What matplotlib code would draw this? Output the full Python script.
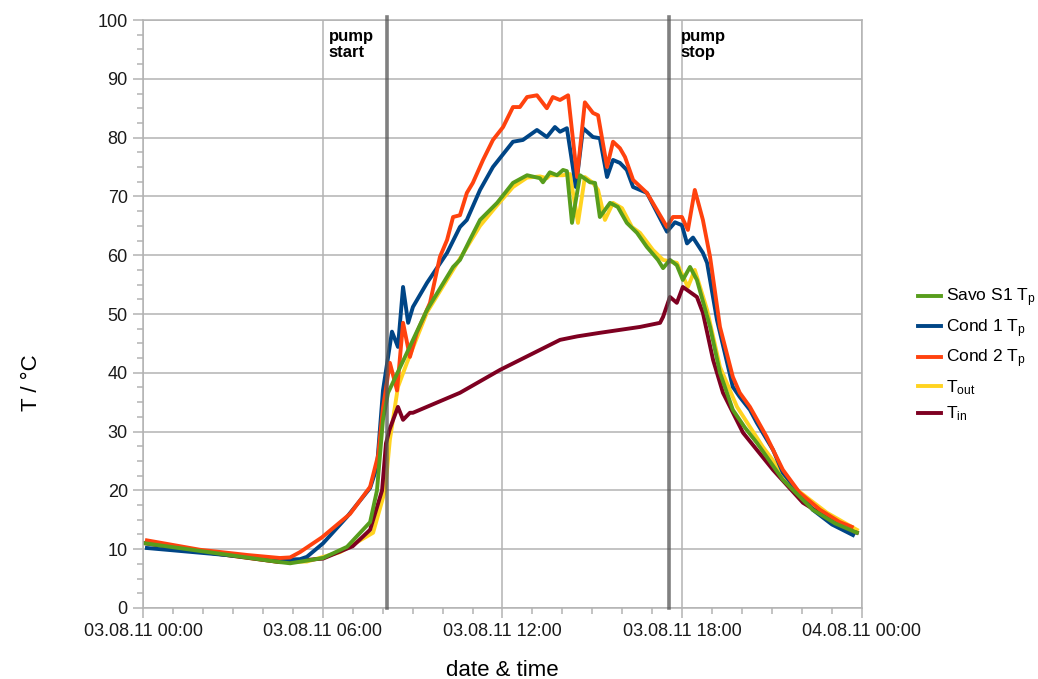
import matplotlib
matplotlib.use('Agg')
import matplotlib.pyplot as plt
from matplotlib.ticker import MultipleLocator

plt.rcParams['font.family'] = ['Liberation Sans', 'DejaVu Sans']
plt.rcParams['mathtext.default'] = 'regular'

# hours since 03.08.11 00:00
t_savo = [0.07, 1.90, 4.57, 4.91, 6.01, 6.81, 7.58, 7.81, 8.01, 8.18, 8.81, 9.48, 10.35, 10.58, 10.91,
          11.25, 11.82, 12.35, 12.82, 13.25, 13.35, 13.58, 13.82, 14.02, 14.15, 14.32, 14.59, 14.92,
          15.09, 15.25, 15.59, 15.85, 16.15, 16.49, 16.82, 17.19, 17.36, 17.59, 17.82, 18.02, 18.26,
          18.49, 18.93, 19.26, 19.69, 20.09, 20.49, 21.36, 22.36, 23.10, 23.83]
savo = [11.0, 9.7, 7.8, 7.6, 8.5, 10.4, 14.6, 20.0, 32.0, 36.6, 43.4, 50.7, 58.0, 59.2, 62.6,
        66.0, 68.9, 72.3, 73.6, 73.1, 72.4, 74.1, 73.6, 74.5, 74.3, 65.5, 73.6, 72.4,
        72.3, 66.5, 68.9, 68.2, 65.5, 63.8, 61.4, 59.2, 57.8, 59.2, 58.3, 55.8, 58.0,
        55.8, 47.8, 40.0, 33.7, 30.7, 28.1, 21.8, 16.7, 14.4, 12.8]

t_cond1 = [0.13, 1.90, 4.57, 5.24, 5.47, 6.01, 6.81, 7.58, 7.81, 8.01, 8.31, 8.51, 8.68, 8.85, 9.01,
           9.48, 10.15, 10.58, 10.81, 11.25, 11.68, 12.35, 12.68, 13.15, 13.48, 13.75, 13.92, 14.15,
           14.45, 14.69, 15.02, 15.25, 15.49, 15.69, 15.92, 16.15, 16.36, 16.82, 17.49, 17.76, 17.99,
           18.16, 18.36, 18.69, 18.83, 19.16, 19.69, 19.92, 20.26, 20.49, 21.03, 21.36, 22.36, 23.00,
           23.70]
cond1 = [10.2, 9.4, 8.2, 8.3, 8.7, 11.0, 15.5, 20.4, 24.0, 37.0, 47.0, 44.4, 54.6, 48.5, 51.2,
         55.3, 60.4, 64.8, 66.0, 71.1, 75.0, 79.3, 79.6, 81.3, 80.1, 81.8, 81.0, 81.6,
         71.6, 81.6, 80.1, 79.9, 73.3, 76.2, 75.7, 74.5, 71.6, 70.6, 64.0, 65.6, 65.1,
         62.0, 63.0, 60.4, 58.7, 49.0, 37.6, 35.9, 33.7, 31.5, 26.9, 23.0, 16.7, 14.2,
         12.4]

t_cond2 = [0.13, 1.90, 3.50, 4.57, 4.91, 5.24, 5.97, 6.91, 7.58, 7.85, 8.01, 8.24, 8.48, 8.68, 8.91,
           9.14, 9.58, 9.91, 10.15, 10.35, 10.58, 10.81, 11.01, 11.35, 11.68, 12.02, 12.35, 12.58,
           12.82, 13.15, 13.48, 13.68, 13.92, 14.19, 14.49, 14.75, 15.02, 15.19, 15.49, 15.69, 15.92,
           16.09, 16.36, 16.82, 17.49, 17.69, 17.99, 18.19, 18.42, 18.69, 18.93, 19.26, 19.69, 19.92,
           20.26, 20.82, 21.36, 21.92, 22.60, 23.26, 23.66]
cond2 = [11.5, 9.9, 9.0, 8.5, 8.6, 9.5, 12.0, 16.0, 20.6, 26.0, 34.0, 41.7, 37.0, 48.5, 42.7,
         46.8, 51.9, 59.7, 62.6, 66.5, 66.8, 70.6, 72.3, 76.2, 79.6, 81.8, 85.2, 85.2,
         86.9, 87.2, 85.0, 86.9, 86.4, 87.2, 73.3, 86.0, 84.2, 83.8, 75.0, 79.3, 78.2,
         76.7, 72.8, 70.6, 64.8, 66.5, 66.5, 64.3, 71.1, 66.0, 59.7, 47.8, 39.3, 36.6,
         34.2, 29.1, 23.5, 19.6, 16.7, 14.6, 13.8]

t_out = [0.13, 1.90, 4.57, 5.47, 6.58, 7.68, 8.08, 8.24, 8.51, 8.81, 9.48, 10.48, 11.25, 11.82,
         12.35, 12.82, 13.25, 13.48, 13.58, 14.02, 14.25, 14.52, 14.75, 15.02, 15.19, 15.42, 15.69,
         15.99, 16.32, 16.59, 17.02, 17.36, 17.82, 18.19, 18.42, 18.83, 19.26, 19.83, 20.69, 21.70,
         22.83, 23.83]
tout = [11.0, 9.6, 7.8, 7.9, 9.5, 12.8, 20.0, 28.6, 37.6, 41.7, 50.3, 58.6, 65.0, 68.5,
        71.6, 73.2, 73.4, 73.1, 73.6, 73.6, 73.8, 65.5, 73.3, 72.3, 71.1, 66.0, 68.9,
        68.0, 64.8, 63.8, 60.9, 59.2, 58.7, 54.6, 57.5, 50.7, 41.0, 34.2, 27.4, 20.6,
        16.2, 13.3]

t_in = [0.07, 1.90, 4.57, 6.01, 7.00, 7.58, 7.98, 8.11, 8.24, 8.51, 8.68, 8.91, 9.01, 10.58, 11.92,
        13.92, 14.50, 15.25, 16.59, 17.26, 17.36, 17.59, 17.82, 18.02, 18.49, 18.69, 19.03, 19.36,
        20.03, 21.03, 22.03, 23.50, 23.83]
tin = [11.0, 9.6, 7.8, 8.4, 10.5, 13.3, 20.0, 28.0, 30.5, 34.2, 32.0, 33.2, 33.2, 36.6, 40.5,
       45.6, 46.2, 46.8, 47.8, 48.5, 49.5, 52.9, 51.9, 54.6, 52.9, 50.2, 42.2, 36.6,
       29.8, 23.5, 17.9, 13.3, 12.8]

pump_start = 8.14
pump_stop = 17.56
xtick_labels = ['03.08.11 00:00', '03.08.11 06:00', '03.08.11 12:00', '03.08.11 18:00', '04.08.11 00:00']

fig = plt.figure(figsize=(10.38, 6.79), dpi=100)
ax = fig.add_axes([0.1378, 0.1046, 0.6926, 0.8659])

lw = 2.8
l_out, = ax.plot(t_out, tout, color='#ffd320', lw=lw, zorder=2.0, solid_joinstyle='round')
l_in, = ax.plot(t_in, tin, color='#7e0021', lw=lw, zorder=2.1, solid_joinstyle='round')
l_c1, = ax.plot(t_cond1, cond1, color='#004586', lw=lw, zorder=2.2, solid_joinstyle='round')
l_c2, = ax.plot(t_cond2, cond2, color='#ff420e', lw=lw, zorder=2.3, solid_joinstyle='round')
l_sv, = ax.plot(t_savo, savo, color='#579d1c', lw=lw, zorder=2.4, solid_joinstyle='round')

for xv in [pump_start, pump_stop]:
    ax.axvline(xv, ymin=0, ymax=1.005, color='#555555', alpha=0.75, lw=2.6, zorder=3, clip_on=False)

ax.text(6.2, 98.5, 'pump\nstart', fontsize=12, fontweight='bold', va='top', ha='left', linespacing=1.1)
ax.text(17.95, 98.5, 'pump\nstop', fontsize=12, fontweight='bold', va='top', ha='left', linespacing=1.1)

ax.set_xlim(0, 24)
ax.set_ylim(0, 100)
ax.set_xticks([0, 6, 12, 18, 24])
ax.set_xticklabels(xtick_labels)
ax.xaxis.set_minor_locator(MultipleLocator(1))
ax.yaxis.set_major_locator(MultipleLocator(10))
ax.yaxis.set_minor_locator(MultipleLocator(2.5))

gc = '#b3b3b3'
ax.grid(True, which='major', color=gc, lw=1.1, zorder=0)
for s in ax.spines.values():
    s.set_color(gc)
    s.set_linewidth(1.1)
ax.tick_params(which='major', length=7, color=gc, width=1.1, labelsize=13, labelcolor='#1a1a1a', pad=4)
ax.tick_params(which='minor', length=4.5, color=gc, width=1.1)

ax.set_xlabel('date & time', fontsize=16, labelpad=14)
ax.set_ylabel('T / °C', fontsize=16)
ax.yaxis.set_label_coords(-0.14, 0.384)

fig.legend([l_sv, l_c1, l_c2, l_out, l_in],
           ['Savo S1 T$_p$', 'Cond 1 T$_p$', 'Cond 2 T$_p$', 'T$_{out}$', 'T$_{in}$'],
           loc='center left', bbox_to_anchor=(0.878, 0.477), frameon=False, fontsize=12.5,
           handlelength=1.3, handletextpad=0.3, labelspacing=0.45, borderaxespad=0)

fig.savefig('out.png', dpi=100)
